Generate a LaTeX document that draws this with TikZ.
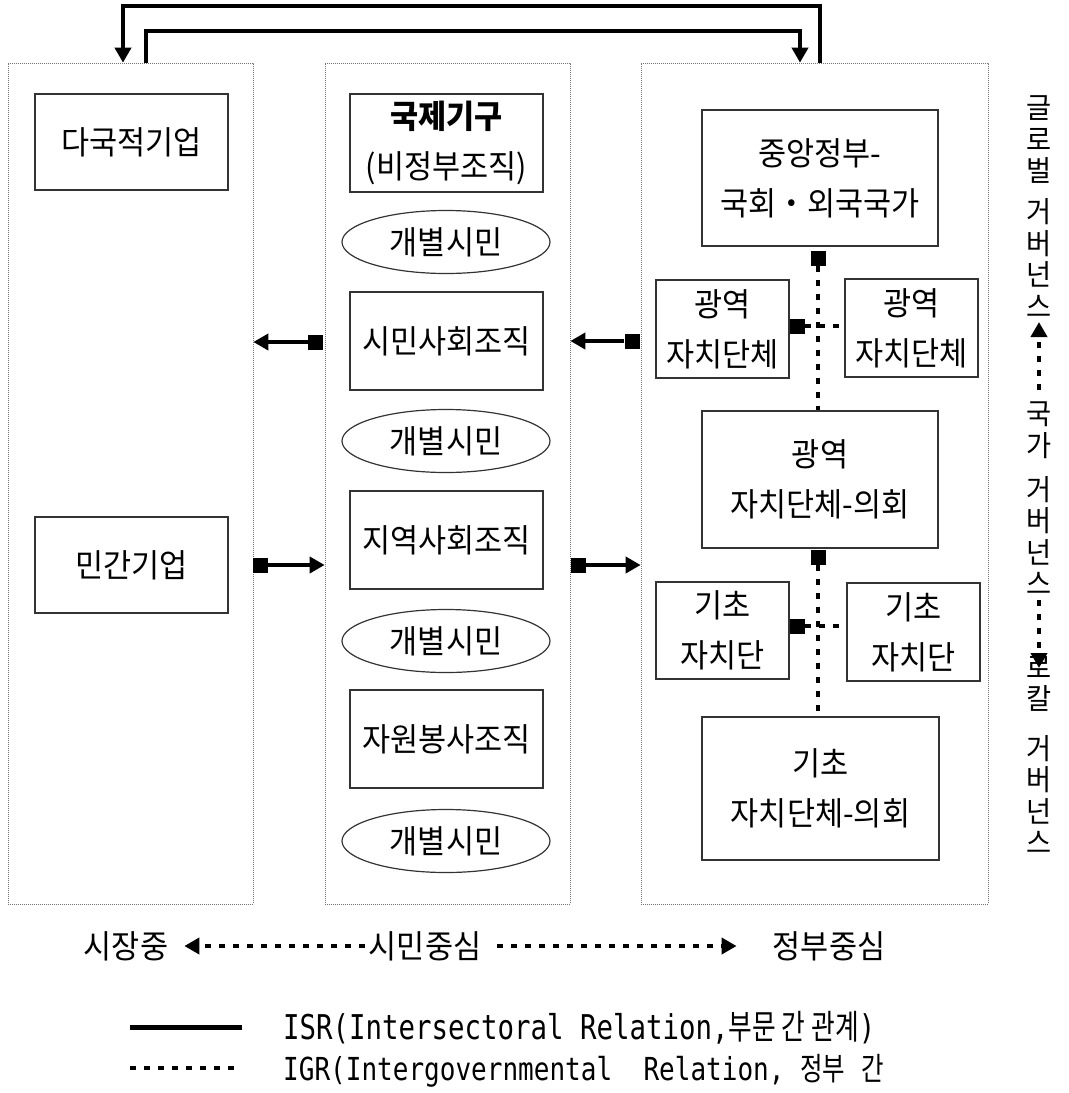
\documentclass[tikz,border=0pt]{standalone}
\usepackage{fontspec}
\setmainfont{Noto Sans CJK KR}
\newfontfamily\kr[FakeStretch=0.94]{Noto Sans CJK KR}
\newfontfamily\monolat{DejaVu Sans Mono}
\usetikzlibrary{arrows.meta,shapes.geometric,calc}

\newcommand{\labelfont}{\kr\fontsize{32.5bp}{50bp}\selectfont}
\newcommand{\vertfont}{\kr\fontsize{29bp}{31.5bp}\selectfont}

\begin{document}
\begin{tikzpicture}[x=1bp,y=-1bp,
  container/.style={draw=black!55, line width=0.7bp, dash pattern=on 1bp off 1bp, inner sep=0pt},
  unit/.style={draw=black!80, line width=1.2bp, inner sep=0pt, align=center, font=\labelfont},
  citizen/.style={ellipse, draw=black!80, line width=1.2bp, inner sep=0pt,
    minimum width=208bp, minimum height=63bp, font=\labelfont},
  sq/.style={fill=black, minimum size=15bp, inner sep=0pt},
  tip/.style={-{Triangle[length=15bp,width=16bp]}},
  isr/.style={line width=4bp},
  igr/.style={line width=4.5bp, dash pattern=on 6bp off 8bp},
  vtext/.style={align=center, inner sep=0pt, font=\vertfont},
  plain/.style={inner sep=0pt, font=\labelfont}
]
\useasboundingbox (0,0) rectangle (1069,1093);

% three sector columns
\node[container, minimum width=245bp, minimum height=841bp] (market) at (130.5,483.5) {};
\node[container, minimum width=245bp, minimum height=841bp] (civil)  at (447.5,483.5) {};
\node[container, minimum width=347bp, minimum height=841bp] (gov)    at (814.5,483.5) {};

% market column
\node[unit, minimum width=193bp, minimum height=96bp] (mnc) at (131.5,142) {다국적기업};
\node[unit, minimum width=193bp, minimum height=96bp] (firm) at (131.5,565) {민간기업};

% civil society column
\node[unit, minimum width=193bp, minimum height=98bp] (intl) at (446.5,143) {{\bfseries 국제기구}\\(비정부조직)};
\node[citizen] (c1) at (446,242) {개별시민};
\node[unit, minimum width=193bp, minimum height=98bp] (cso) at (446.5,341) {시민사회조직};
\node[citizen] (c2) at (446,441) {개별시민};
\node[unit, minimum width=193bp, minimum height=98bp] (cbo) at (446.5,540) {지역사회조직};
\node[citizen] (c3) at (446,641) {개별시민};
\node[unit, minimum width=193bp, minimum height=98bp] (vol) at (446.5,739) {자원봉사조직};
\node[citizen] (c4) at (446,841) {개별시민};

% government column
\node[unit, minimum width=236bp, minimum height=136bp] (central) at (820,178) {중앙정부-\\국회・외국국가};
\node[unit, minimum width=133bp, minimum height=98bp] (regL) at (722.5,329) {광역\\자치단체};
\node[unit, minimum width=133bp, minimum height=98bp] (regR) at (911.5,328) {광역\\자치단체};
\node[unit, minimum width=236bp, minimum height=137bp] (regC) at (820,479.5) {광역\\자치단체-의회};
\node[unit, minimum width=133bp, minimum height=97bp] (locL) at (722.5,630.5) {기초\\자치단};
\node[unit, minimum width=133bp, minimum height=98bp] (locR) at (913.5,632) {기초\\자치단};
\node[unit, minimum width=237bp, minimum height=143bp] (locC) at (820.5,788.5) {기초\\자치단체-의회};

% intergovernmental links
\node[sq] (s1) at (818,258) {};
\node[sq] (s2) at (797,326) {};
\node[sq] (s3) at (818,557) {};
\node[sq] (s4) at (797,626) {};
\draw[igr] (s1.south) -- (s1.south |- regC.north);
\draw[igr] (s2.east) -- (s2.east -| regR.west);
\draw[igr] (s3.south) -- (s3.south |- locC.north);
\draw[igr] (s4.east) -- (s4.east -| locR.west);

% intersectoral links between columns
\node[sq] (a1) at (315.5,342) {};
\node[sq] (a2) at (632,341) {};
\node[sq] (a3) at (260.5,565) {};
\node[sq] (a4) at (578,565) {};
\draw[isr,tip] (a1.west) -- (a1.west -| market.east);
\draw[isr,tip] (a2.west) -- (a2.west -| civil.east);
\draw[isr,tip] (a3.east) -- (a3.east -| civil.west);
\draw[isr,tip] (a4.east) -- (a4.east -| gov.west);

% links over the top
\coordinate (o1) at (gov.north -| 820,0);
\coordinate (o2) at (market.north -| 123,0);
\coordinate (i1) at (market.north -| 146,0);
\coordinate (i2) at (gov.north -| 800,0);
\draw[isr,tip] (o1) -- (820,6) -| (o2);
\draw[isr,tip] (i1) -- (146,31) -| (i2);

% governance levels
\node[vtext] (g1) at (1039,140) {글\\로\\벌};
\node[vtext] (g2) at (1039,258) {거\\버\\넌\\스};
\node[vtext] (n1) at (1039,430) {국\\가};
\node[vtext] (n2) at (1039,535.5) {거\\버\\넌\\스};
\node[vtext] (l1) at (1039,684) {로\\칼};
\node[vtext] (l2) at (1039,794.5) {거\\버\\넌\\스};
\draw[igr,tip] (1039,390) -- (1039,322);
\draw[igr,tip] (1039,600) -- (1039,668);

% orientation axis
\node[plain] (mk) at (126,946) {시장중};
\node[plain] (cv) at (425,946) {시민중심};
\node[plain] (gv) at (829,946) {정부중심};
\draw[igr,tip] ([xshift=-4bp]cv.west) -- ([xshift=16bp]mk.east);
\draw[igr,tip] ([xshift=16bp]cv.east) -- ([xshift=-36bp]gv.west);

% legend
\coordinate (la) at (130,1027);
\coordinate (lb) at (242,1027);
\coordinate (lc) at (130,1068);
\coordinate (ld) at (242,1068);
\draw[line width=5bp] (la) -- (lb);
\draw[igr] (lc) -- (ld);
\node[anchor=west, inner sep=0pt] (isrtxt) at (283,1028)
  {\resizebox*{592bp}{33bp}{\monolat ISR(Intersectoral Relation,\kr 부문\ 간\ 관계\monolat )}};
\node[anchor=west, inner sep=0pt] (igrtxt) at (283,1071)
  {\resizebox*{601bp}{33bp}{\monolat IGR(Intergovernmental\ \ Relation,\ \kr 정부\ \ \ 간}};
\end{tikzpicture}
\end{document}
